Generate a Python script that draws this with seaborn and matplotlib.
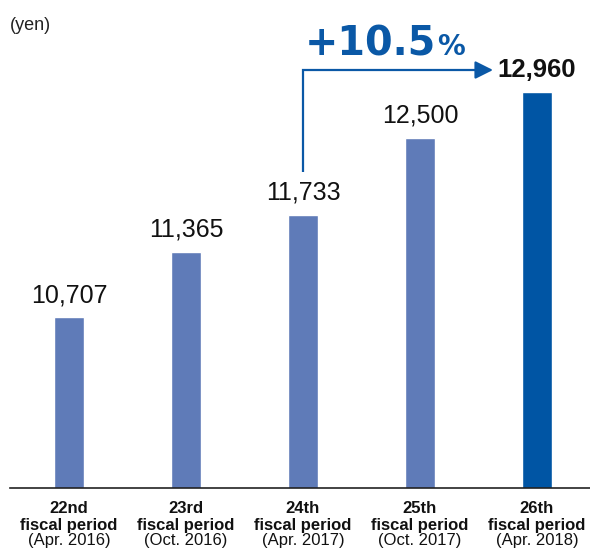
import matplotlib
matplotlib.use("Agg")
import matplotlib.pyplot as plt
import seaborn as sns
import pandas as pd

# Dividend per unit by fiscal period
periods = ["22nd", "23rd", "24th", "25th", "26th"]
period_dates = ["(Apr. 2016)", "(Oct. 2016)", "(Apr. 2017)", "(Oct. 2017)", "(Apr. 2018)"]
dividends = [10707, 11365, 11733, 12500, 12960]
growth_label = "+10.5"

bar_colors = ["#5f7bb8", "#5f7bb8", "#5f7bb8", "#5f7bb8", "#0055a4"]
accent = "#0a58a6"

df = pd.DataFrame({"period": periods, "dividend": dividends})

sns.set_theme(style="white")
plt.rcParams["font.family"] = ["Liberation Sans", "DejaVu Sans"]

fig = plt.figure(figsize=(5.9, 5.5), dpi=100)
ax = fig.add_axes([10 / 590, 62 / 550, 580 / 590, 488 / 550])

sns.barplot(data=df, x="period", y="dividend", hue="period", order=periods,
            palette=bar_colors, width=0.256, legend=False, saturation=1, ax=ax)

ax.set_xlim(-0.504, 4.453)
ax.set_ylim(9000, 13880)

for s in ["left", "right", "top"]:
    ax.spines[s].set_visible(False)
ax.spines["bottom"].set_color("#222222")
ax.spines["bottom"].set_linewidth(1.2)
ax.set_yticks([])
ax.set_xlabel("")
ax.set_ylabel("")
ax.set_xticks(range(len(periods)))
ax.set_xticklabels([])
ax.tick_params(axis="x", length=0)

# Value labels over each bar
for i, v in enumerate(dividends):
    last = i == len(dividends) - 1
    ax.annotate(f"{v:,}", xy=(i, v), xytext=(0, 11), textcoords="offset points",
                ha="center", va="baseline", fontsize=18.5 if last else 18,
                fontweight="bold" if last else "normal", color="#111111")

# Category labels: ordinal and "fiscal period" in bold, date below
for i, (p, d) in enumerate(zip(periods, period_dates)):
    ax.annotate(p, xy=(i, 0), xycoords=("data", "axes fraction"),
                xytext=(0, -18), textcoords="offset points",
                ha="center", va="baseline", fontsize=12, fontweight="bold",
                color="#111111")
    ax.annotate("fiscal period", xy=(i, 0), xycoords=("data", "axes fraction"),
                xytext=(0, -30.2), textcoords="offset points",
                ha="center", va="baseline", fontsize=12, fontweight="bold",
                color="#111111")
    ax.annotate(d, xy=(i, 0), xycoords=("data", "axes fraction"),
                xytext=(0, -41), textcoords="offset points",
                ha="center", va="baseline", fontsize=12, color="#111111")

# Unit label
fig.text(10 / 590, 1 - 30 / 550, "(yen)", fontsize=13, color="#222222",
         ha="left", va="baseline")

# Growth arrow from the 24th period to the 26th period
ax.plot([2, 2, 3.50], [12160, 13180, 13180], color=accent, lw=1.6,
        solid_capstyle="butt", solid_joinstyle="miter")
ax.annotate("", xy=(3.624, 13180), xytext=(3.49, 13180),
            arrowprops=dict(arrowstyle="-|>,head_length=0.9,head_width=0.45",
                            color=accent, lw=1.6, shrinkA=0, shrinkB=0))

ax.text(2.015, 13330, growth_label, fontsize=28.6, fontweight="bold",
        color=accent, ha="left", va="baseline", family="DejaVu Sans")
ax.text(3.145, 13330, "%", fontsize=20, fontweight="bold",
        color=accent, ha="left", va="baseline", family="DejaVu Sans")

fig.savefig("out.png", dpi=100)
